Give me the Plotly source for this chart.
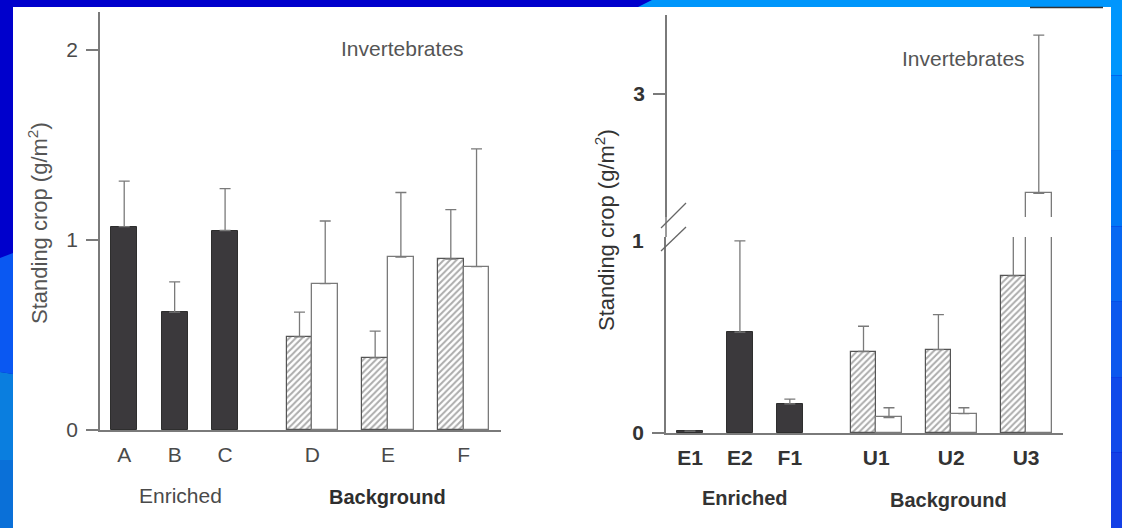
import plotly.graph_objects as go

# ---- data: standing crop of invertebrates (g/m^2), bar value and upper error limit ----
left_enriched_labels = ["A", "B", "C"]
left_background_labels = ["D", "E", "F"]
left_enriched_mean = [1.07, 0.62, 1.05]
left_enriched_err = [0.24, 0.16, 0.22]
left_hatched_mean = [0.49, 0.38, 0.90]
left_hatched_err = [0.13, 0.14, 0.26]
left_open_mean = [0.77, 0.91, 0.86]
left_open_err = [0.33, 0.34, 0.62]

right_enriched_labels = ["E1", "E2", "F1"]
right_background_labels = ["U1", "U2", "U3"]
right_enriched_mean = [0.01, 0.52, 0.15]
right_enriched_err = [0.0, 0.47, 0.025]
right_hatched_mean = [0.42, 0.43, 0.81]
right_hatched_err = [0.13, 0.18, 0.60]
right_open_mean = [0.08, 0.10, 1.92]
right_open_err = [0.05, 0.03, 1.72]

W, H = 1122, 528
FONT = "Liberation Sans, Arial, sans-serif"
INK = "#4a4a4a"
AXIS = "#7a7a7a"
DARK = "#3b393c"

# group layout on the category axis
enriched_pos = [0.0, 1.0, 2.0]
background_pos = [3.73, 5.23, 6.73]
bar_w = 0.51
hatched_pos = [p - bar_w / 2 for p in background_pos]
open_pos = [p + bar_w / 2 for p in background_pos]
x_range = [-0.48, 7.47]


def px(x):
    return x / W


def py(y):
    return 1 - y / H


def err(e, color=AXIS):
    return dict(type="data", array=e, arrayminus=[0] * len(e), symmetric=False,
                color=color, thickness=1.3, width=5.5)


def add_bars(fig, xa, ya, enr_m, enr_e, hat_m, hat_e, opn_m, opn_e):
    fig.add_trace(go.Bar(x=enriched_pos, y=enr_m, width=bar_w, xaxis=xa, yaxis=ya,
                         marker=dict(color=DARK, line=dict(color="#2e2e2e", width=1)),
                         error_y=err(enr_e), showlegend=False))
    fig.add_trace(go.Bar(x=hatched_pos, y=hat_m, width=bar_w, xaxis=xa, yaxis=ya,
                         marker=dict(color="white", line=dict(color="#555", width=1.2),
                                     pattern=dict(shape="/", size=4.5, solidity=0.45,
                                                  fgcolor="#5a5a5a", bgcolor="white")),
                         error_y=err(hat_e), showlegend=False))
    fig.add_trace(go.Bar(x=open_pos, y=opn_m, width=bar_w, xaxis=xa, yaxis=ya,
                         marker=dict(color="white", line=dict(color="#7a7a7a", width=1.3)),
                         error_y=err(opn_e), showlegend=False))


fig = go.Figure()
add_bars(fig, "x", "y", left_enriched_mean, left_enriched_err, left_hatched_mean,
         left_hatched_err, left_open_mean, left_open_err)
# right panel: same bars on the lower and upper parts of the broken axis
add_bars(fig, "x2", "y2", right_enriched_mean, right_enriched_err, right_hatched_mean,
         right_hatched_err, right_open_mean, right_open_err)
add_bars(fig, "x2", "y3", right_enriched_mean, right_enriched_err, right_hatched_mean,
         right_hatched_err, right_open_mean, right_open_err)

xcommon = dict(range=x_range, showline=True, linecolor=AXIS, linewidth=1.5, automargin=False,
               showgrid=False, zeroline=False, ticks="", tickvals=enriched_pos + background_pos,
               ticklabelstandoff=5, fixedrange=True)
ycommon = dict(showline=True, linecolor=AXIS, linewidth=1.5, showgrid=False, zeroline=False,
               ticks="outside", ticklen=12, tickwidth=1.5, tickcolor=AXIS, fixedrange=True,
               ticklabelstandoff=4, automargin=False)

fig.update_layout(
    width=W, height=H, autosize=False, margin=dict(l=0, r=0, t=0, b=0, pad=0, autoexpand=False),
    paper_bgcolor="#0000cc", plot_bgcolor="rgba(0,0,0,0)",
    bargap=0, barmode="overlay",
    font=dict(family=FONT, color=INK, size=21),
    xaxis=dict(xcommon, domain=[px(100), px(501)], anchor="y",
               ticktext=left_enriched_labels + left_background_labels,
               tickfont=dict(family=FONT, size=21, color=INK)),
    yaxis=dict(ycommon, domain=[py(430), py(12)], range=[0, 2.2], anchor="x",
               tickvals=[0, 1, 2], ticktext=["0", "1", "2"],
               tickfont=dict(family=FONT, size=21, color=INK)),
    xaxis2=dict(xcommon, domain=[px(666), px(1063)], anchor="y2",
                ticktext=["<b>%s</b>" % t for t in right_enriched_labels + right_background_labels],
                tickfont=dict(family=FONT, size=21, color="#333")),
    yaxis2=dict(ycommon, domain=[py(433), py(237)], range=[0, 1.01], anchor="x2",
                tickvals=[0], ticktext=["<b>0</b>"],
                tickfont=dict(family=FONT, size=21, color="#333")),
    yaxis3=dict(ycommon, domain=[py(217), py(15)], range=[1.663, 3.859], anchor="free",
                position=px(666), tickvals=[3], ticktext=["<b>3</b>"],
                tickfont=dict(family=FONT, size=21, color="#333")),
)

shapes = [
    # white page area
    dict(type="rect", xref="paper", yref="paper", x0=px(13), x1=px(1111), y0=0, y1=py(7),
         fillcolor="white", line=dict(width=0), layer="below"),
    # light-blue slide accents
    dict(type="path", xref="paper", yref="paper",
         path="M %f %f L %f %f L %f %f L %f %f Z" % (px(638), py(7), px(652), py(0), 1, py(0), 1, py(7)),
         fillcolor="#0096fb", line=dict(width=0), layer="below"),
    dict(type="path", xref="paper", yref="paper",
         path="M 0 %f L %f %f L %f %f L 0 %f Z" % (py(258), px(13), py(253), px(13), py(374), py(372)),
         fillcolor="#0a58f2", line=dict(width=0), layer="below"),
    dict(type="path", xref="paper", yref="paper",
         path="M 0 %f L %f %f L %f 0 L 0 0 Z" % (py(372), px(13), py(374), px(13)),
         fillcolor="#0a7edf", line=dict(width=0), layer="below"),
    dict(type="rect", xref="paper", yref="paper", x0=0, x1=px(13), y0=0, y1=py(460),
         fillcolor="#0a70d8", line=dict(width=0), layer="below"),
]
# right edge strip shading from light to darker blue
strip_colors = ["#0096fd", "#0088fb", "#0078f6", "#0868f2", "#0c58ee", "#104aea", "#1440e6"]
n = len(strip_colors)
for i, c in enumerate(strip_colors):
    shapes.append(dict(type="rect", xref="paper", yref="paper", x0=px(1111), x1=1,
                       y0=1 - (i + 1) / n, y1=1 - i / n, fillcolor=c, line=dict(width=0),
                       layer="below"))
shapes.append(dict(type="rect", xref="paper", yref="paper", x0=px(1111), x1=1, y0=py(7), y1=1,
                   fillcolor="#0096fd", line=dict(width=0), layer="below"))
# broken-axis marks on the right panel
shapes += [
    dict(type="line", xref="paper", yref="paper", x0=px(666), x1=px(666), y0=py(237), y1=py(217),
         line=dict(color=AXIS, width=1.5)),
    dict(type="line", xref="paper", yref="paper", x0=px(661), x1=px(686), y0=py(228), y1=py(203),
         line=dict(color="#666", width=1.3)),
    dict(type="line", xref="paper", yref="paper", x0=px(661), x1=px(686), y0=py(251), y1=py(227),
         line=dict(color="#666", width=1.3)),
    dict(type="line", xref="paper", yref="paper", x0=px(1030), x1=px(1103), y0=py(7.5), y1=py(7.5),
         line=dict(color="#333", width=1.5)),
]
fig.update_layout(shapes=shapes)


def note(x, y, text, size=21, color=INK, angle=0):
    fig.add_annotation(x=px(x), y=py(y), xref="paper", yref="paper", text=text,
                       showarrow=False, textangle=angle, xanchor="center", yanchor="middle",
                       font=dict(family=FONT, size=size, color=color))


note(180, 495, "Enriched")
note(387, 497, "<b>Background</b>", size=20, color="#2e2e2e")
note(402, 49, "Invertebrates", color="#555")
note(38, 223, "Standing crop (g/m<sup>2</sup>)", size=22, color="#555", angle=-90)

note(745, 498, "<b>Enriched</b>", size=20, color="#333")
note(948, 500, "<b>Background</b>", size=20, color="#333")
note(963, 58, "Invertebrates", color="#555")
note(605, 230, "Standing crop (g/m<sup>2</sup>)", size=22, color="#333", angle=-90)
note(638, 240, "<b>1</b>", color="#333")

fig.write_html("out.html")
